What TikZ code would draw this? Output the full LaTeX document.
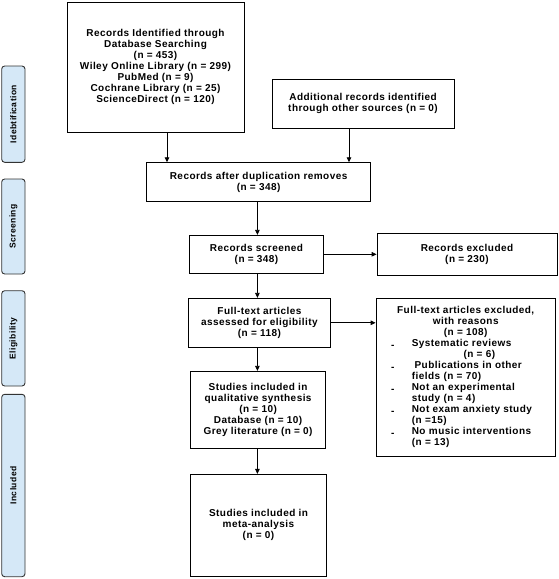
\documentclass[tikz,border=0pt]{standalone}
\usepackage{fontspec}
\setmainfont{Liberation Sans}[LetterSpace=4.5]
\usetikzlibrary{arrows.meta}
\definecolor{phasefill}{HTML}{D5E8F7}
\definecolor{phaseline}{HTML}{333333}
\newcommand{\dashmark}{\makebox[20.8pt][l]{\raisebox{-1.8pt}{-}}}
\begin{document}
\begin{tikzpicture}[x=1pt,y=-1pt,
  box/.style={draw,line width=0.8pt,inner sep=0pt,align=center,
    font=\bfseries\fontsize{10}{11.1}\selectfont},
  phasebox/.style={draw=phaseline,fill=phasefill,rounded corners=3pt,line width=0.9pt,
    inner sep=0pt,rotate=90,minimum height=23.3pt,font=\bfseries\fontsize{8.5}{10}\selectfont},
  flow/.style={line width=0.8pt,-{Triangle[length=5pt,width=4.5pt]}}]
\useasboundingbox (0,0) rectangle (559,579);
% phase labels
\node[phasebox,minimum width=96.3pt] (p1) at (13.35,114.15) {Idebtification};
\node[phasebox,minimum width=95pt] (p2) at (13.35,226.5) {Screening};
\node[phasebox,minimum width=95.3pt] (p3) at (13.35,338.35) {Eligibility};
\node[phasebox,minimum width=182.4pt] (p4) at (13.35,485.5) {Included};
% boxes
\node[box,minimum width=177pt,minimum height=130pt] (b1) at (155.5,67)
  {Records Identified through\\Database Searching\\(n = 453)\\Wiley Online Library (n = 299)\\PubMed (n = 9)\\Cochrane Library (n = 25)\\ScienceDirect (n = 120)};
\node[box,minimum width=182pt,minimum height=49pt] (b2) at (363,103.5)
  {Additional records identified\\through other sources (n = 0)};
\node[box,minimum width=224.3pt,minimum height=38.6pt] (b3) at (258.6,182)
  {Records after duplication removes\\(n = 348)};
\node[box,minimum width=134.4pt,minimum height=38pt] (b4) at (256.5,254.3)
  {Records screened\\(n = 348)};
\node[box,minimum width=180pt,minimum height=42pt] (b5) at (467,254.3)
  {Records excluded\\(n = 230)};
\node[box,minimum width=142.3pt,minimum height=49pt] (b6) at (259.4,322.8)
  {Full-text articles\\assessed for eligibility\\(n = 118)};
\node[box,minimum width=179.4pt,minimum height=157.7pt,text width=179.4pt,align=left,
  font=\bfseries\fontsize{10}{11}\selectfont] (b7) at (465.7,377.2)
  {\makebox[179.4pt][c]{Full-text articles excluded,}\\
   \makebox[179.4pt][c]{with reasons}\\
   \makebox[179.4pt][c]{(n = 108)}\\
   \hspace*{15pt}\dashmark Systematic reviews\\
   \hspace*{87.5pt}(n = 6)\\
   \hspace*{15pt}\dashmark\hspace*{2.8pt}Publications in other\\
   \hspace*{35.8pt}fields (n = 70)\\
   \hspace*{15pt}\dashmark Not an experimental\\
   \hspace*{35.8pt}study (n = 4)\\
   \hspace*{15pt}\dashmark Not exam anxiety study\\
   \hspace*{35.8pt}(n =15)\\
   \hspace*{15pt}\dashmark No music interventions\\
   \hspace*{35.8pt}(n = 13)};
\node[box,minimum width=134.8pt,minimum height=77pt] (b8) at (258.1,409.8)
  {Studies included in\\qualitative synthesis\\(n = 10)\\Database (n = 10)\\Grey literature (n = 0)};
\node[box,minimum width=135.5pt,minimum height=101.7pt] (b9) at (258.5,525.2)
  {Studies included in\\meta-analysis\\(n = 0)};
% connectors
\coordinate (xa) at (167,0);
\coordinate (xb) at (349,0);
\coordinate (xc) at (257.4,0);
\draw[flow] (b1.south -| xa) -- (b3.north -| xa);
\draw[flow] (b2.south -| xb) -- (b3.north -| xb);
\draw[flow] (b3.south -| xc) -- (b4.north -| xc);
\draw[flow] (b4.south -| xc) -- (b6.north -| xc);
\draw[flow] (b6.south -| xc) -- (b8.north -| xc);
\draw[flow] (b8.south -| xc) -- (b9.north -| xc);
\draw[flow] (b4.east) -- (b4.east -| b5.west);
\draw[flow] (b6.east) -- (b6.east -| b7.west);
\end{tikzpicture}
\end{document}
